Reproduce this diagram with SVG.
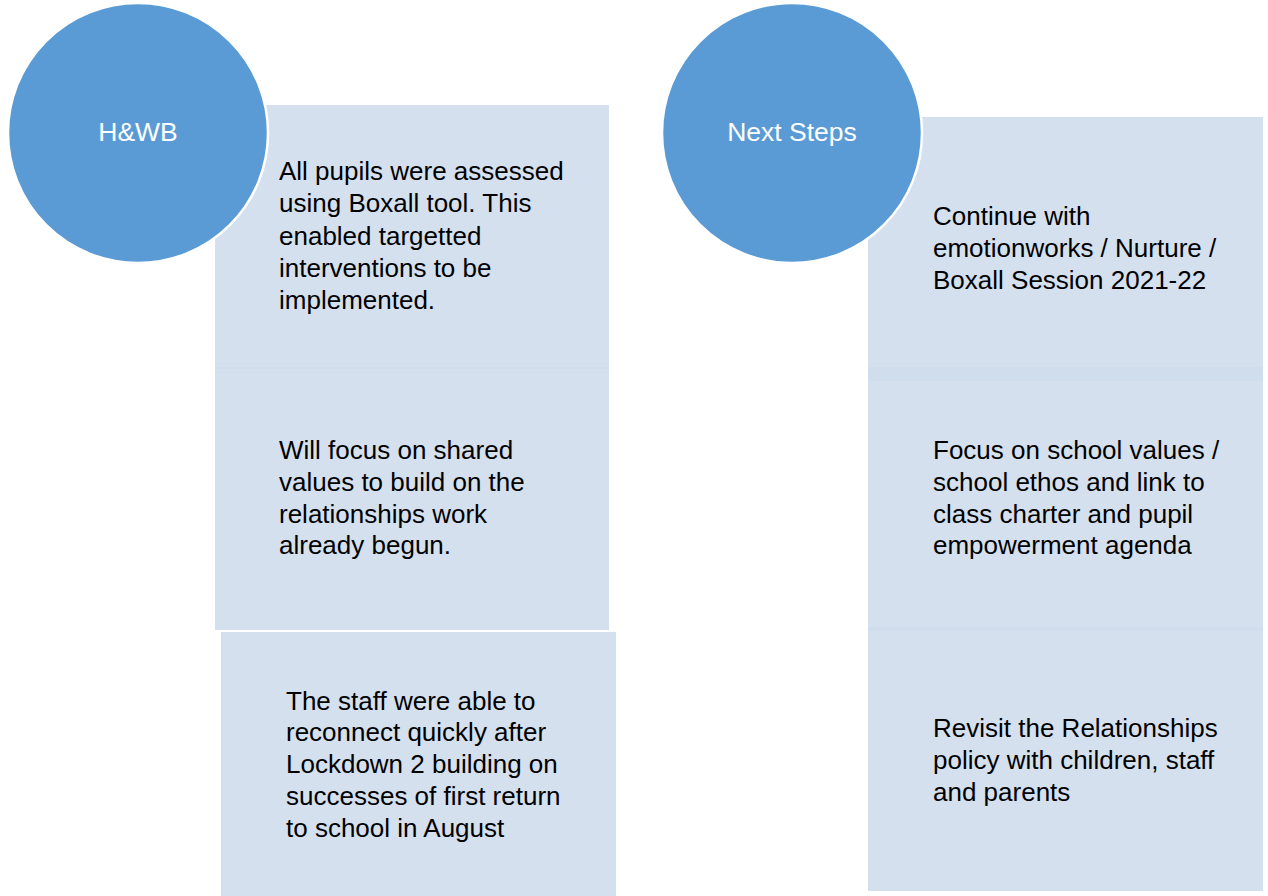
<svg xmlns="http://www.w3.org/2000/svg" width="1268" height="896" viewBox="0 0 1268 896">
<style>
.box{fill:#cfdced;fill-opacity:0.88;}
.circ{fill:#5b9bd5;stroke:#ffffff;stroke-width:2.5;}
.t{font-family:"Liberation Sans",Arial,sans-serif;font-size:26px;fill:#000000;}
.ct{font-family:"Liberation Sans",Arial,sans-serif;font-size:26.5px;fill:#ffffff;text-anchor:middle;}
</style>
<rect width="1268" height="896" fill="#ffffff"/>
<g id="connectors"></g>
<g id="hwb-box1">
<rect class="box" x="215" y="105" width="394" height="264"/>
<text class="t" x="279" y="180">All pupils were assessed</text>
<text class="t" x="279" y="212">using Boxall tool. This</text>
<text class="t" x="279" y="245">enabled targetted</text>
<text class="t" x="279" y="277">interventions to be</text>
<text class="t" x="279" y="309">implemented.</text>
</g>
<g id="hwb-box2">
<rect class="box" x="215" y="367" width="394" height="263"/>
<text class="t" x="279" y="459">Will focus on shared</text>
<text class="t" x="279" y="491">values to build on the</text>
<text class="t" x="279" y="523">relationships work</text>
<text class="t" x="279" y="554">already begun.</text>
</g>
<g id="hwb-box3">
<rect class="box" x="221" y="632" width="395" height="266"/>
<text class="t" x="286" y="710">The staff were able to</text>
<text class="t" x="286" y="741">reconnect quickly after</text>
<text class="t" x="286" y="773">Lockdown 2 building on</text>
<text class="t" x="286" y="805">successes of first return</text>
<text class="t" x="286" y="837">to school in August</text>
</g>
<g id="hwb-circle">
<circle class="circ" cx="138" cy="133" r="130"/>
<text class="ct" x="138" y="141">H&amp;WB</text>
</g>
<g id="next-box1">
<rect class="box" x="868" y="117" width="395" height="264"/>
<text class="t" x="933" y="225">Continue with</text>
<text class="t" x="933" y="257">emotionworks / Nurture /</text>
<text class="t" x="933" y="289">Boxall Session 2021-22</text>
</g>
<g id="next-box2">
<rect class="box" x="868" y="367" width="395" height="264"/>
<text class="t" x="933" y="459">Focus on school values /</text>
<text class="t" x="933" y="491">school ethos and link to</text>
<text class="t" x="933" y="523">class charter and pupil</text>
<text class="t" x="933" y="554">empowerment agenda</text>
</g>
<g id="next-box3">
<rect class="box" x="868" y="627" width="395" height="264"/>
<text class="t" x="933" y="737">Revisit the Relationships</text>
<text class="t" x="933" y="769">policy with children, staff</text>
<text class="t" x="933" y="801">and parents</text>
</g>
<g id="next-circle">
<circle class="circ" cx="792" cy="133" r="130"/>
<text class="ct" x="792" y="141">Next Steps</text>
</g>
</svg>
